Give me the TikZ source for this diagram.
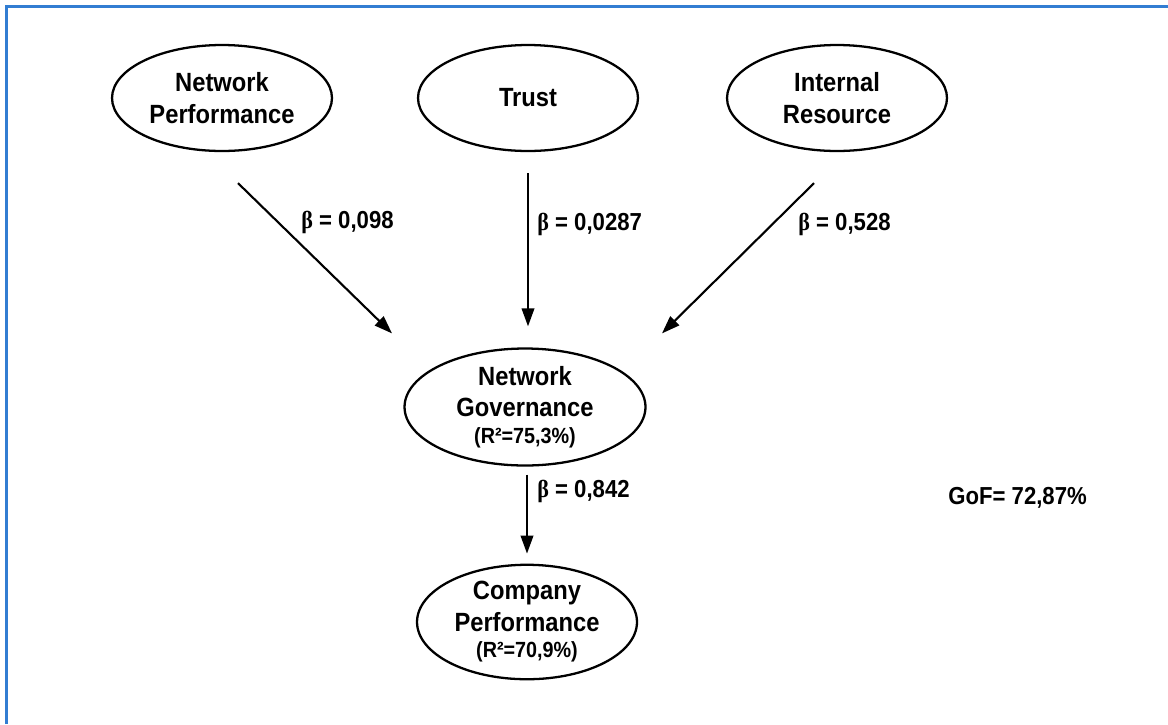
\documentclass[tikz,border=0pt]{standalone}
\usepackage{fontspec}
\setmainfont{Liberation Sans}[FakeStretch=0.9]
\newfontfamily\betaf{Liberation Serif}[FakeStretch=0.9]
\newcommand\mybeta{{\betaf\bfseries β}}
\usetikzlibrary{shapes.geometric,arrows.meta,calc}
\definecolor{frameblue}{RGB}{50,125,210}
\tikzset{
  latent/.style={ellipse, draw, line width=1.3pt, inner sep=0pt, align=center,
    font=\bfseries\fontsize{15}{18}\selectfont, minimum width=4.4cm, minimum height=2.12cm},
  arr/.style={line width=1.2pt, -{Triangle[length=0.36cm,width=0.25cm]}},
  coef/.style={anchor=west, inner sep=0pt, font=\bfseries\fontsize{14}{17}\selectfont},
  rsq/.style={}
}
\newcommand\rsqfont{\fontsize{12.5}{14}\selectfont}
\begin{document}
\begin{tikzpicture}[x=0.02cm,y=-0.02cm]
\useasboundingbox (0,0) rectangle (1168,724);
\fill[white] (0,0) rectangle (1168,724);
\draw[frameblue, line width=1.3pt] (6.5,724) -- (6.5,6.5) -- (1168,6.5);

\node[latent] (NP) at (222,98) {Network\\Performance};
\node[latent] (T) at (528,98) {Trust};
\node[latent] (IR) at (837,98) {Internal\\Resource};
\node[latent, minimum width=4.82cm, minimum height=2.34cm] (NG) at (525,407)
  {Network\\Governance\\[-3pt]{\rsqfont (R²=75,3\%)}};
\node[latent] (CP) at (527,622)
  {Company\\Performance\\[-3pt]{\rsqfont (R²=70,9\%)}};

\draw[arr] ($(NP.south)+(16,31)$) -- ($(NG.north)+(-133,-14)$);
\draw[arr] ($(T.south)+(0,21)$) -- ($(T.south |- NG.north)+(0,-21)$);
\draw[arr] ($(IR.south)+(-23,31)$) -- ($(NG.north)+(137,-14)$);
\draw[arr] ($(NG.south)+(2,8)$) -- ($(CP.north)+(0,-10)$);

\node[coef] (b1) at (301,222) {\mybeta{} = 0,098};
\node[coef] (b2) at (537,224) {\mybeta{} = 0,0287};
\node[coef] (b3) at (798,224) {\mybeta{} = 0,528};
\node[coef] (b4) at (537,491) {\mybeta{} = 0,842};
\node[coef] (gof) at (948,498) {GoF= 72,87\%};
\end{tikzpicture}
\end{document}
